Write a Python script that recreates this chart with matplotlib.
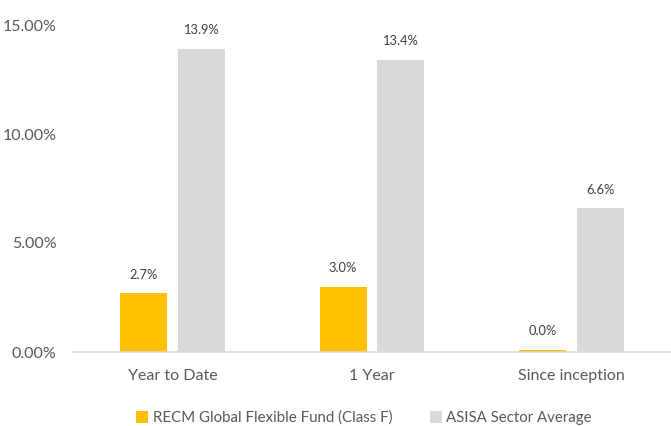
import matplotlib.pyplot as plt
import numpy as np

plt.rcParams['font.family'] = ['Lato', 'DejaVu Sans']

categories = ['Year to Date', '1 Year', 'Since inception']
fund_name = 'RECM Global Flexible Fund (Class F)'
sector_name = 'ASISA Sector Average'
fund_returns = [2.7, 3.0, 0.04]
fund_labels = ['2.7%', '3.0%', '0.0%']
sector_returns = [13.9, 13.4, 6.6]
y_ticks = [0, 5, 10, 15]

fig = plt.figure(figsize=(6.71, 4.26), dpi=100)
ax = fig.add_axes([73/671, 74/426, 598/671, 327/426])

x = np.arange(len(categories))
w = 0.235
# the since-inception fund bar is tiny but still drawn as a thin sliver
b1 = ax.bar(x - 0.145, [max(v, 0.1) for v in fund_returns], w,
            color='#FFC000', label=fund_name)
b2 = ax.bar(x + 0.145, sector_returns, w, color='#D9D9D9', label=sector_name)

for bars, labels in ((b1, fund_labels), (b2, [f'{v:.1f}%' for v in sector_returns])):
    for bar, lab in zip(bars, labels):
        h = bar.get_height()
        ax.annotate(lab, (bar.get_x() + bar.get_width()/2, h),
                    xytext=(0, 9), textcoords='offset points',
                    ha='center', va='bottom', fontsize=9.3, color='#404040')

ax.set_xlim(-0.5, 2.5)
ax.set_ylim(0, 15)
ax.set_yticks(y_ticks)
ax.set_yticklabels([f'{v:.2f}%' for v in y_ticks])
ax.set_xticks(x)
ax.set_xticklabels(categories)
ax.tick_params(axis='both', length=0, labelsize=11.5, colors='#595959')
ax.tick_params(axis='y', pad=12)
ax.tick_params(axis='x', pad=12)
for s in ['top', 'right', 'left']:
    ax.spines[s].set_visible(False)
ax.spines['bottom'].set_color('#D9D9D9')
ax.spines['bottom'].set_linewidth(1.2)

fig.legend(loc='center', bbox_to_anchor=(364/671, 1 - 418/426), ncol=2,
           frameon=False, fontsize=10.8, handlelength=0.8, handleheight=0.8,
           handletextpad=0.3, columnspacing=2.5, labelcolor='#595959')

fig.savefig('out.png', dpi=100)
